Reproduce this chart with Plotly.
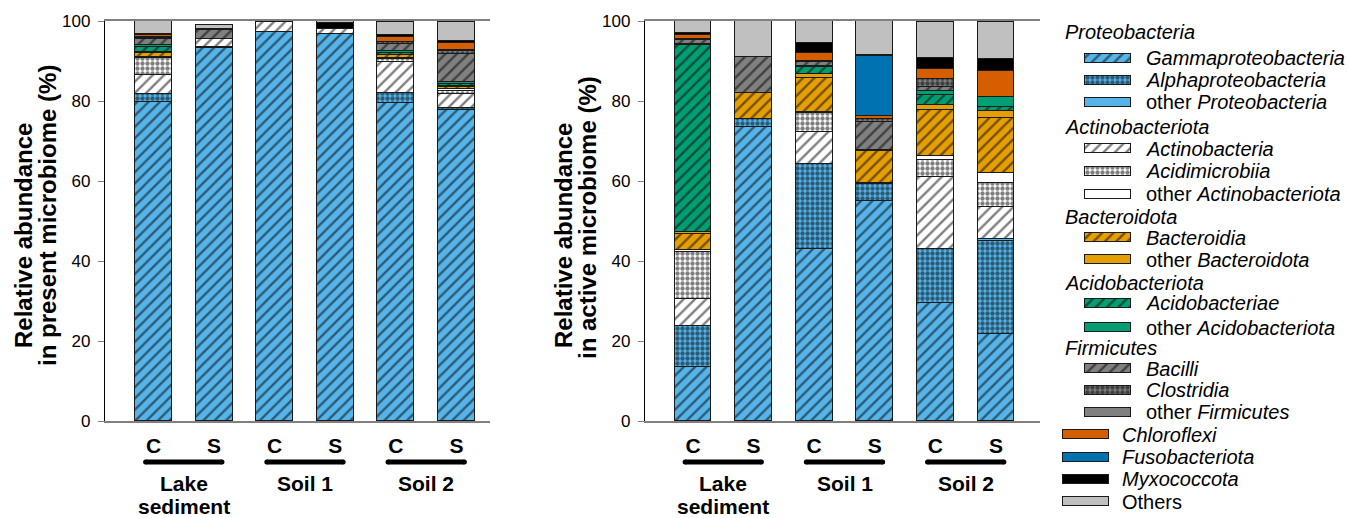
import plotly.graph_objects as go

W, H = 1349, 518

# ---- categories -------------------------------------------------------------
samples = ["C", "S", "C", "S", "C", "S"]
site_names = [["Lake", "sediment"], ["Soil 1"], ["Soil 2"]]
y_ticks = [0, 20, 40, 60, 80, 100]

# ---- relative abundance in the present microbiome (%) -------------------------
# order: Lake C, Lake S, Soil 1 C, Soil 1 S, Soil 2 C, Soil 2 S
gamma_present = [79.8, 93.2, 97.2, 96.8, 79.4, 77.8]
alpha_present = [2.0, 0.3, 0.0, 0.0, 2.5, 0.4]
oproteo_present = [0.0, 0.0, 0.0, 0.0, 0.0, 0.0]
actino_present = [4.6, 1.9, 2.5, 1.3, 7.9, 3.5]
acidimicro_present = [4.3, 0.0, 0.0, 0.0, 0.6, 0.8]
oactino_present = [0.3, 0.1, 0.0, 0.0, 0.3, 0.6]
bacteroidia_present = [0.9, 0.0, 0.0, 0.0, 0.7, 0.4]
obacteroid_present = [0.3, 0.0, 0.0, 0.0, 0.1, 0.2]
acidobact_present = [1.4, 0.0, 0.0, 0.0, 0.6, 0.6]
oacido_present = [0.3, 0.0, 0.0, 0.0, 0.4, 0.5]
bacilli_present = [1.6, 2.2, 0.0, 0.0, 1.7, 6.9]
clostridia_present = [0.3, 0.1, 0.0, 0.0, 0.5, 0.9]
ofirm_present = [0.2, 0.0, 0.0, 0.0, 0.1, 0.1]
chloroflexi_present = [0.6, 0.1, 0.0, 0.0, 1.1, 1.9]
fuso_present = [0.0, 0.0, 0.0, 0.0, 0.0, 0.0]
myxo_present = [0.2, 0.0, 0.1, 1.4, 0.6, 0.4]
others_present = [3.2, 1.1, 0.2, 0.4, 3.2, 4.7]

# ---- relative abundance in the active microbiome (%) --------------------------
gamma_active = [13.6, 73.5, 43.0, 55.1, 29.4, 21.8]
alpha_active = [10.1, 1.9, 21.2, 4.2, 13.6, 23.2]
oproteo_active = [0.0, 0.0, 0.0, 0.0, 0.0, 0.4]
actino_active = [6.7, 0.0, 8.0, 0.0, 18.1, 8.2]
acidimicro_active = [11.8, 0.0, 4.7, 0.0, 4.2, 5.8]
oactino_active = [0.5, 0.0, 0.3, 0.3, 1.0, 2.5]
bacteroidia_active = [4.0, 6.5, 8.5, 7.9, 11.4, 13.9]
obacteroid_active = [0.5, 0.1, 1.0, 0.2, 1.4, 1.8]
acidobact_active = [46.9, 0.0, 1.7, 0.0, 2.3, 0.8]
oacido_active = [0.1, 0.0, 0.4, 0.0, 1.1, 2.7]
bacilli_active = [1.0, 8.9, 0.9, 7.1, 1.1, 0.0]
clostridia_active = [0.2, 0.2, 0.2, 0.8, 2.0, 0.0]
ofirm_active = [0.0, 0.0, 0.2, 0.0, 0.0, 0.0]
chloroflexi_active = [1.0, 0.0, 2.0, 0.7, 2.3, 6.4]
fuso_active = [0.0, 0.0, 0.0, 15.0, 0.0, 0.0]
myxo_active = [0.5, 0.0, 2.3, 0.2, 2.9, 3.0]
others_active = [3.1, 8.9, 5.6, 8.5, 9.0, 9.3]

# ---- styles -------------------------------------------------------------------
SKY, ORANGE, GREEN, GREY = "#56B4E9", "#E69F00", "#009E73", "#808080"
VERMIL, BLUE, BLACK, LIGHT = "#D55E00", "#0072B2", "#000000", "#C0C0C0"
HATCH, DOTS, SOLID = "/", ".", ""

# (phylum header, label, present, active, colour, pattern)
taxa = [
    ("Proteobacteria", "<i>Gammaproteobacteria</i>", gamma_present, gamma_active, SKY, HATCH),
    ("Proteobacteria", "<i>Alphaproteobacteria</i>", alpha_present, alpha_active, SKY, DOTS),
    ("Proteobacteria", "other <i>Proteobacteria</i>", oproteo_present, oproteo_active, SKY, SOLID),
    ("Actinobacteriota", "<i>Actinobacteria</i>", actino_present, actino_active, "#FFFFFF", HATCH),
    ("Actinobacteriota", "<i>Acidimicrobiia</i>", acidimicro_present, acidimicro_active, "#FFFFFF", DOTS),
    ("Actinobacteriota", "other <i>Actinobacteriota</i>", oactino_present, oactino_active, "#FFFFFF", SOLID),
    ("Bacteroidota", "<i>Bacteroidia</i>", bacteroidia_present, bacteroidia_active, ORANGE, HATCH),
    ("Bacteroidota", "other <i>Bacteroidota</i>", obacteroid_present, obacteroid_active, ORANGE, SOLID),
    ("Acidobacteriota", "<i>Acidobacteriae</i>", acidobact_present, acidobact_active, GREEN, HATCH),
    ("Acidobacteriota", "other <i>Acidobacteriota</i>", oacido_present, oacido_active, GREEN, SOLID),
    ("Firmicutes", "<i>Bacilli</i>", bacilli_present, bacilli_active, GREY, HATCH),
    ("Firmicutes", "<i>Clostridia</i>", clostridia_present, clostridia_active, GREY, DOTS),
    ("Firmicutes", "other <i>Firmicutes</i>", ofirm_present, ofirm_active, GREY, SOLID),
    (None, "<i>Chloroflexi</i>", chloroflexi_present, chloroflexi_active, VERMIL, SOLID),
    (None, "<i>Fusobacteriota</i>", fuso_present, fuso_active, BLUE, SOLID),
    (None, "<i>Myxococcota</i>", myxo_present, myxo_active, BLACK, SOLID),
    (None, "Others", others_present, others_active, LIGHT, SOLID),
]

FONT = "Arial, Liberation Sans, sans-serif"
OUTLINE = "#1a1a1a"


def px_x(x):
    return x / W


def px_y(y):
    return 1 - y / H


def marker_for(colour, shape):
    pat = dict(shape=shape, fgcolor="#000000", bgcolor=colour,
               size=8 if shape == HATCH else 5,
               solidity=0.3 if shape == HATCH else 0.6)
    return dict(color=colour, line=dict(color=OUTLINE, width=1), pattern=pat)


fig = go.Figure()
xs = list(range(len(samples)))
BAR_W = 0.61

for header, label, pres, act, colour, shape in taxa:
    for vals, xa, ya in ((pres, "x", "y"), (act, "x2", "y2")):
        fig.add_trace(go.Bar(
            x=xs, y=[v if v > 0 else None for v in vals],
            xaxis=xa, yaxis=ya, width=BAR_W,
            marker=marker_for(colour, shape),
            name=label, showlegend=False, hoverinfo="skip",
        ))

# ---- axes ---------------------------------------------------------------------
x_common = dict(showline=True, linecolor="#808080", linewidth=1.5, mirror=True,
                ticks="", tickvals=xs, ticktext=[f"<b>{s}</b>" for s in samples],
                tickfont=dict(family=FONT, size=21, color="black"),
                ticklabelstandoff=5, showgrid=False, zeroline=False, fixedrange=True,
                automargin=False)
y_common = dict(range=[0, 100], tickvals=y_ticks, ticks="outside", ticklen=6,
                tickcolor="#808080", showline=True, linecolor="black", linewidth=1.3,
                tickfont=dict(family=FONT, size=17, color="black"),
                ticklabelstandoff=4, showgrid=False, zeroline=False, fixedrange=True,
                automargin=False, domain=[px_y(421), px_y(21)])

L_AX, L_END = 105, 490
R_AX, R_END = 645, 1040
L_C0, R_C0, STEP = 153.5, 693.0, 60.6

fig.update_layout(
    xaxis=dict(domain=[px_x(L_AX), px_x(L_END)], anchor="y",
               range=[(L_AX - L_C0) / STEP, (L_END - L_C0) / STEP], **x_common),
    yaxis=dict(anchor="x", **y_common),
    xaxis2=dict(domain=[px_x(R_AX), px_x(R_END)], anchor="y2",
                range=[(R_AX - R_C0) / STEP, (R_END - R_C0) / STEP], **x_common),
    yaxis2=dict(anchor="x2", **y_common),
    xaxis3=dict(domain=[0, 1], range=[0, W], visible=False, fixedrange=True, anchor="y3"),
    yaxis3=dict(domain=[0, 1], range=[H, 0], visible=False, fixedrange=True, anchor="x3"),
    barmode="stack", bargap=0,
    width=W, height=H, margin=dict(l=0, r=0, t=0, b=0, pad=0, autoexpand=False),
    paper_bgcolor="white", plot_bgcolor="rgba(0,0,0,0)",
    font=dict(family=FONT, color="black"),
    showlegend=False,
)

annotations = []
shapes = []

# y-axis titles (two lines each)
for ax_px, line2, c1, c2 in ((L_AX, "in present microbiome (%)", 236, 216),
                            (R_AX, "in active microbiome (%)", 236, 218)):
    annotations.append(dict(text="<b>Relative abundance</b>", x=px_x(ax_px - 82), y=px_y(c1),
                            xref="paper", yref="paper", textangle=-90, showarrow=False,
                            font=dict(size=24), xanchor="center", yanchor="middle"))
    annotations.append(dict(text=f"<b>{line2}</b>", x=px_x(ax_px - 58), y=px_y(c2),
                            xref="paper", yref="paper", textangle=-90, showarrow=False,
                            font=dict(size=24), xanchor="center", yanchor="middle"))

# site brackets (thick bars with rounded ends) and names under the C / S pairs
BRACKET_Y, CAP = px_y(462), 2.5
for xa in ("x", "x2"):
    for i, lines in enumerate(site_names):
        left, right = 2 * i, 2 * i + 1
        x0, x1 = left - 0.13, right + 0.13
        shapes.append(dict(type="line", xref=xa, yref="paper",
                           x0=x0, x1=x1, y0=BRACKET_Y, y1=BRACKET_Y,
                           line=dict(color="black", width=5)))
        for xc in (x0, x1):
            shapes.append(dict(type="circle", xref=xa, yref="paper",
                               xsizemode="pixel", ysizemode="pixel",
                               xanchor=xc, yanchor=BRACKET_Y,
                               x0=-CAP, x1=CAP, y0=-CAP, y1=CAP,
                               fillcolor="black", line=dict(width=0)))
        for k, txt in enumerate(lines):
            annotations.append(dict(text=f"<b>{txt}</b>", x=(left + right) / 2, y=px_y(483 + 23 * k),
                                    xref=xa, yref="paper", showarrow=False,
                                    font=dict(size=21), xanchor="center", yanchor="middle"))

# ---- legend -------------------------------------------------------------------
HDR_X, ITEM_SW_X, ITEM_TX_X, TOP_SW_X, TOP_TX_X = 1063, 1085, 1144, 1063, 1120
SW_LEN, SW_H = 46, 9
row_y = [32, 58, 80, 102, 127, 148.5, 171, 194, 217, 237.5, 259.5, 283, 303, 327.5,
         348, 368.5, 390, 412, 434.5, 457, 479, 501.5]

row = 0
last_header = None
for header, label, pres, act, colour, shape in taxa:
    if header is not None and header != last_header:
        annotations.append(dict(text=f"<i>{header}</i>", x=px_x(HDR_X), y=px_y(row_y[row]),
                                xref="paper", yref="paper", showarrow=False,
                                font=dict(size=20), xanchor="left", yanchor="middle"))
        row += 1
    last_header = header
    sw_x = ITEM_SW_X if header is not None else TOP_SW_X
    tx_x = ITEM_TX_X if header is not None else TOP_TX_X
    fig.add_trace(go.Bar(
        x=[SW_LEN], base=[sw_x], y=[row_y[row]], orientation="h", width=SW_H,
        xaxis="x3", yaxis="y3", marker=marker_for(colour, shape),
        showlegend=False, hoverinfo="skip",
    ))
    annotations.append(dict(text=label, x=px_x(tx_x), y=px_y(row_y[row]),
                            xref="paper", yref="paper", showarrow=False,
                            font=dict(size=20), xanchor="left", yanchor="middle"))
    row += 1

fig.update_layout(annotations=annotations, shapes=shapes)
fig.write_html("out.html")
